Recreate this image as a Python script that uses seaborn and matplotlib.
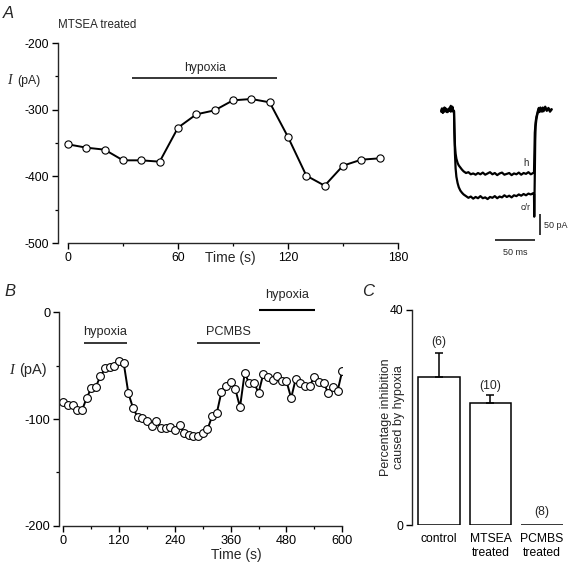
import numpy as np
import pandas as pd
import matplotlib
matplotlib.use("Agg")
import matplotlib.pyplot as plt
import seaborn as sns
from matplotlib.ticker import MultipleLocator

# ---------------- data ----------------
# Panel A: MTSEA treated, current vs time
a_time = [0, 10, 20, 30, 40, 50, 60, 70, 80, 90, 100, 110, 120, 130, 140, 150, 160, 170]
a_current = [-352, -357, -360, -376, -376, -378, -327, -307, -301, -286, -284, -289,
             -341, -399, -414, -384, -375, -373]
a_hypoxia = [35, 114]

# Panel A inset: current traces (ms, pA)
h_t = [-16, -15, -14, -13, -12, -11, -10, -9, -8, -7, -6, -5, -4, -3, -2, -1, 0,
       0.5, 1.2, 2, 3, 4.5, 6, 8, 10, 12, 15, 18, 21, 24, 27, 30, 33, 36, 39, 42, 45,
       48, 51, 54, 57, 60, 63, 66, 69, 72, 75, 78, 81, 84, 87, 90, 93, 96, 99, 100,
       100.5, 101, 102, 103, 104, 105, 106, 107, 108, 110, 111, 112, 114, 116, 118, 120, 122]
h_i = [2, 8, -2, 5, 0, 9, 1, 4, -1, 6, 2, 10, 0, 5, 12, 3, 2,
       -40, -80, -100, -112, -122, -128, -133, -138, -142, -146, -144, -149, -147, -150, -146,
       -149, -145, -150, -147, -144, -149, -146, -151, -147, -145, -150, -148, -146, -151,
       -147, -149, -145, -150, -146, -148, -144, -149, -146, -145,
       -100, -50, -25, -12, -5, 3, 9, 2, 7, 0, 10, 4, 8, 2, 9, 3, 6]
c_t = [-16, -15, -14, -13, -12, -11, -10, -9, -8, -7, -6, -5, -4, -3, -2, -1, 0,
       0.5, 1.2, 2, 3, 4.5, 6, 8, 10, 12, 15, 18, 21, 24, 27, 30, 33, 36, 39, 42, 45,
       48, 51, 54, 57, 60, 63, 66, 69, 72, 75, 78, 81, 84, 87, 90, 93, 96, 99, 100,
       100.3, 101, 101.5, 102, 103, 104, 105, 106, 107, 108, 110, 111, 112, 114, 116, 118, 120, 122]
c_i = [0, 6, -3, 4, 10, 2, 7, -1, 5, 1, 8, 3, 14, 2, 6, 0, 1,
       -50, -100, -135, -155, -170, -180, -188, -193, -197, -201, -205, -202, -207, -203, -206,
       -201, -206, -204, -208, -203, -205, -201, -206, -202, -204, -199, -203, -200, -204,
       -199, -201, -197, -200, -196, -199, -195, -197, -194, -196,
       -250, -150, -70, -35, -18, -8, 0, 6, -1, 10, 3, 8, 1, 12, 4, 7, 0, 5]

# Panel B: current vs time with PCMBS
b_time = list(range(0, 610, 10))
b_current = [-83.8, -86.6, -86.6, -92, -92, -80.6, -71, -69.7, -59.7, -52.5, -51.6, -50.6,
             -46, -47.8, -76, -89.7, -98.4, -99, -102, -106.6, -102, -108.8, -108, -107.5,
             -110, -106, -113.4, -115.3, -115.6, -116.3, -112.8, -109.7, -97.5, -94.7, -74.7,
             -69.4, -65, -72, -89, -57, -66.6, -66.3, -75.3, -58, -61, -63.4, -59.4, -64,
             -64.7, -80.3, -62.2, -66.6, -68.8, -68.8, -60.3, -65.6, -66.6, -75.6, -70.3,
             -73.4, -54.7]
b_hypoxia1 = [45, 136]
b_pcmbs = [288, 424]
b_hypoxia2 = [421, 541]

# Panel C: percentage inhibition
c_groups = ["control", "MTSEA\ntreated", "PCMBS\ntreated"]
c_means = [27.5, 22.7, 0.0]
c_sem = [4.5, 1.5, 0.0]
c_n = ["(6)", "(10)", "(8)"]

# ---------------- style ----------------
sns.set_theme(style="ticks")
plt.rcParams["font.family"] = ["Liberation Sans", "DejaVu Sans"]
plt.rcParams["axes.unicode_minus"] = False
plt.rcParams["axes.linewidth"] = 1.0

FS = 8.7
W = H = 570.0

fig = plt.figure(figsize=(5.7, 5.7), dpi=100)


def fx(x):
    return x / W


def fy(y):
    return 1 - y / H


def style_axes(ax, fs=FS):
    for s in ["top", "right"]:
        ax.spines[s].set_visible(False)
    ax.tick_params(which="major", direction="out", length=4.5, width=1.0,
                   labelsize=fs, color="black", labelcolor="black", pad=2)
    ax.tick_params(which="minor", direction="out", length=2.2, width=0.9, color="black")
    ax.set_facecolor("white")
    ax.grid(False)


def line_kw(ms):
    return dict(color="black", linewidth=1.4, marker="o", markersize=ms,
                markerfacecolor="white", markeredgecolor="black", markeredgewidth=0.8)


# ---------------- Panel A ----------------
axA = fig.add_axes([fx(58), fy(243), 340 / W, 200 / H])
sns.lineplot(x=a_time, y=a_current, ax=axA, sort=False, estimator=None, **line_kw(5.2))
axA.set_xlim(-5.45, 180)
axA.set_ylim(-500, -200)
style_axes(axA)
axA.spines["bottom"].set_bounds(0, 180)
axA.set_xticks([0, 60, 120, 180])
axA.xaxis.set_minor_locator(MultipleLocator(30))
axA.set_yticks([-200, -300, -400, -500])
axA.yaxis.set_minor_locator(MultipleLocator(50))
axA.set_xlabel("Time (s)", fontsize=10, va="top")
axA.xaxis.set_label_coords(0.506, -0.038)
axA.set_ylabel("")
axA.hlines(-252.6, a_hypoxia[0], a_hypoxia[1], color="black", lw=1.1)
axA.text(np.mean(a_hypoxia), -238, "hypoxia", ha="center", va="center", fontsize=FS)

fig.text(fx(3), fy(14), "A", fontsize=12, style="italic", va="center", ha="left")
fig.text(fx(58), fy(25), "MTSEA treated", fontsize=8.3, va="center", ha="left")
fig.text(fx(7), fy(81), "I", family=["Liberation Serif"], style="italic",
         fontsize=10, va="center", ha="left")
fig.text(fx(17), fy(81), "(pA)", fontsize=8.8, va="center", ha="left")

# ---------------- Panel A inset ----------------
axI = fig.add_axes([fx(434), fy(262.9), 136 / W, 163.8 / H])
sns.lineplot(x=h_t, y=h_i, ax=axI, sort=False, estimator=None, color="black", linewidth=1.6)
sns.lineplot(x=c_t, y=c_i, ax=axI, sort=False, estimator=None, color="black", linewidth=1.6)
axI.set_xlim(-25, 145)
axI.set_ylim(-360, 30)
axI.axis("off")
axI.hlines(-306, 51, 101, color="black", lw=1.1)
axI.vlines(107.5, -294, -244, color="black", lw=1.1)
axI.text(76, -336, "50 ms", ha="center", va="center", fontsize=6.5)
axI.text(112.5, -270, "50 pA", ha="left", va="center", fontsize=6.5)
axI.text(90, -121, "h", ha="center", va="center", fontsize=7)
axI.text(89, -227, "c/r", ha="center", va="center", fontsize=6.5)

# ---------------- Panel B ----------------
axB = fig.add_axes([fx(59.3), fy(525.7), 283 / W, 213.4 / H])
sns.lineplot(x=b_time, y=b_current, ax=axB, sort=False, estimator=None, **line_kw(5.6))
axB.set_xlim(-8.6, 600)
axB.set_ylim(-200, 0)
style_axes(axB, fs=9.2)
axB.spines["bottom"].set_bounds(0, 600)
axB.set_xticks([0, 120, 240, 360, 480, 600])
axB.xaxis.set_minor_locator(MultipleLocator(60))
axB.set_yticks([0, -100, -200])
axB.yaxis.set_minor_locator(MultipleLocator(50))
axB.set_xlabel("Time (s)", fontsize=10, va="top")
axB.xaxis.set_label_coords(0.626, -0.105)
axB.set_ylabel("")
axB.hlines(-29, b_hypoxia1[0], b_hypoxia1[1], color="black", lw=1.1)
axB.hlines(-29, b_pcmbs[0], b_pcmbs[1], color="black", lw=1.1)
axB.hlines(2.2, b_hypoxia2[0], b_hypoxia2[1], color="black", lw=1.5, clip_on=False)
axB.text(np.mean(b_hypoxia1), -18.2, "hypoxia", ha="center", va="center", fontsize=9.2)
axB.text(np.mean(b_pcmbs), -18.2, "PCMBS", ha="center", va="center", fontsize=9.2)
axB.text(np.mean(b_hypoxia2), 16.2, "hypoxia", ha="center", va="center", fontsize=9.2,
         clip_on=False)

fig.text(fx(4), fy(292), "B", fontsize=12, style="italic", va="center", ha="left")
fig.text(fx(9), fy(370), "I", family=["Liberation Serif"], style="italic",
         fontsize=10.5, va="center", ha="left")
fig.text(fx(19), fy(370), "(pA)", fontsize=10.5, va="center", ha="left")

# ---------------- Panel C ----------------
axC = fig.add_axes([fx(412.3), fy(525), 151 / W, 215 / H])
dfc = pd.DataFrame({"group": c_groups, "value": c_means})
sns.barplot(data=dfc, x="group", y="value", order=c_groups, color="white",
            edgecolor="black", linewidth=1.1, width=0.81, errorbar=None, ax=axC)
axC.errorbar([0, 1], c_means[:2], yerr=[[0, 0], c_sem[:2]], fmt="none",
             ecolor="black", elinewidth=1.1, capsize=3, capthick=1.1)
axC.set_xlim(-0.524, 2.42)
axC.set_ylim(0, 40)
style_axes(axC)
axC.spines["bottom"].set_visible(False)
axC.set_yticks([0, 40])
axC.tick_params(axis="x", length=0, pad=6, labelsize=FS)
axC.set_xlabel("")
axC.set_ylabel("Percentage inhibition\ncaused by hypoxia", fontsize=9,
               linespacing=1.1)
axC.yaxis.set_label_coords(-0.05, 0.5)
n_y = [34.1, 25.9, 2.5]
for i, (lab, yy) in enumerate(zip(c_n, n_y)):
    axC.text(i, yy, lab, ha="center", va="center", fontsize=FS)

fig.text(fx(362), fy(292), "C", fontsize=12, style="italic", va="center", ha="left")

fig.savefig("out.png", dpi=100, facecolor="white")
